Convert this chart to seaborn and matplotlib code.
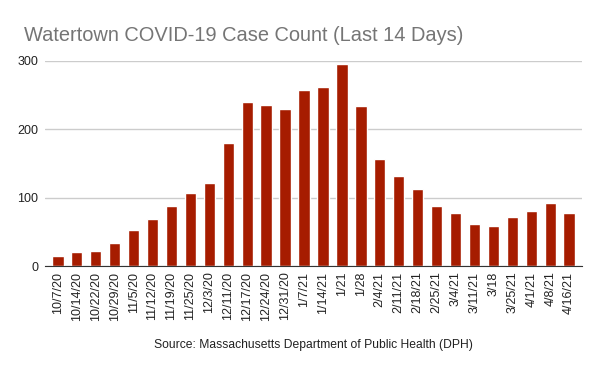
import seaborn as sns
import pandas as pd
import matplotlib.pyplot as plt

dates = ["10/7/20", "10/14/20", "10/22/20", "10/29/20", "11/5/20", "11/12/20",
         "11/19/20", "11/25/20", "12/3/20", "12/11/20", "12/17/20", "12/24/20",
         "12/31/20", "1/7/21", "1/14/21", "1/21", "1/28", "2/4/21", "2/11/21",
         "2/18/21", "2/25/21", "3/4/21", "3/11/21", "3/18", "3/25/21", "4/1/21",
         "4/8/21", "4/16/21"]
cases = [15, 20, 22, 34, 53, 69, 88, 107, 122, 180, 240, 235, 229, 257,
         262, 295, 234, 157, 132, 113, 88, 78, 62, 59, 72, 81, 92, 78]

df = pd.DataFrame({"Date": dates, "Cases": cases})

sns.set_style("white")
plt.rcParams["font.family"] = ["Liberation Sans", "DejaVu Sans"]

fig = plt.figure(figsize=(6, 3.71), dpi=100)
ax = fig.add_axes([0.075, 0.283, 0.895, 0.553])

sns.barplot(data=df, x="Date", y="Cases", color="#a61c00", width=0.6,
            saturation=1, ax=ax, zorder=3)

ax.set_ylim(0, 300)
ax.set_xlim(-0.68, len(dates) - 0.32)
ax.set_yticks([0, 100, 200, 300])
ax.yaxis.grid(True, color="#cccccc", linewidth=1, zorder=0)
ax.tick_params(axis="y", length=0, labelsize=9, colors="#222222", pad=5)
ax.tick_params(axis="x", length=0, labelsize=9, colors="#222222", rotation=90, pad=4)
for s in ["top", "right", "left"]:
    ax.spines[s].set_visible(False)
ax.spines["bottom"].set_color("#333333")
ax.spines["bottom"].set_zorder(4)
ax.set_xlabel("")
ax.set_ylabel("")

fig.text(0.04, 0.903, "Watertown COVID-19 Case Count (Last 14 Days)",
         fontsize=14.4, color="#757575", va="center", ha="left")
fig.text(0.523, 0.07, "Source: Massachusetts Department of Public Health (DPH)",
         fontsize=8.7, color="#222222", ha="center", va="center")

fig.savefig("out.png", dpi=100)
